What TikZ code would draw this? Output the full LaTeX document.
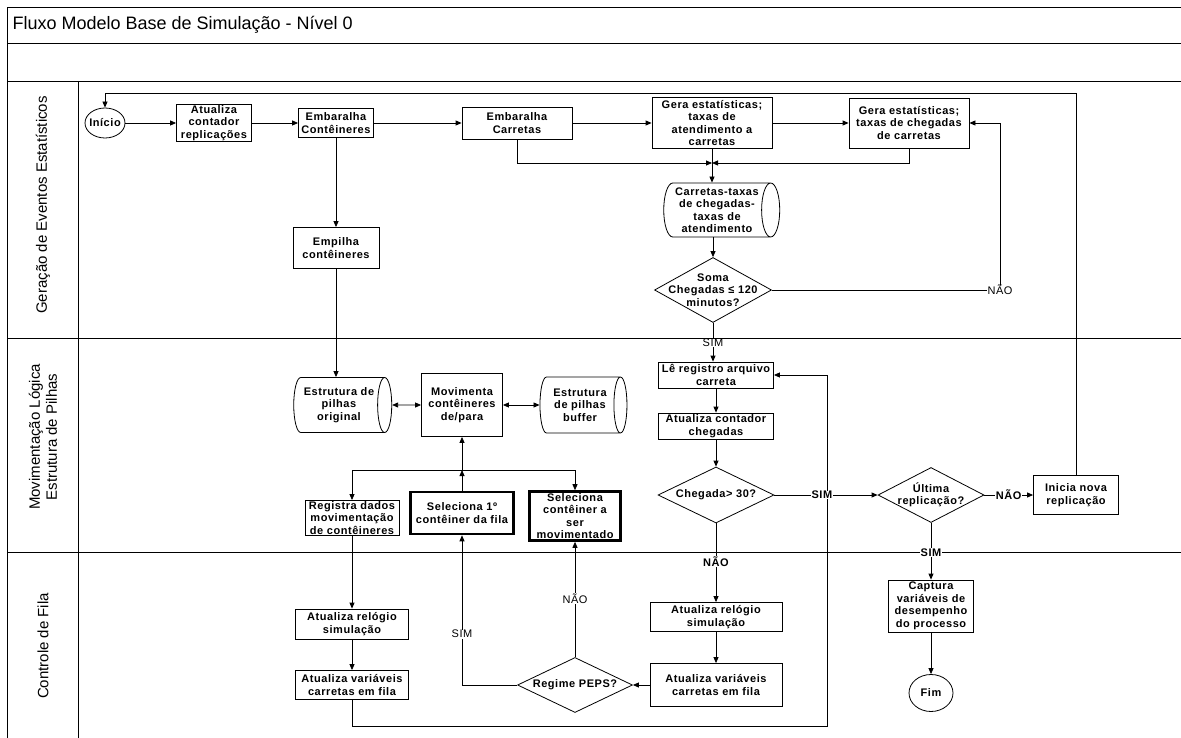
\documentclass[tikz,border=0pt]{standalone}
\usepackage{fontspec}
\setmainfont{Liberation Sans}
\newfontfamily\flowfamily{Liberation Sans}[LetterSpace=5]
\newcommand{\flowbf}{\flowfamily\bfseries\fontsize{11}{12.5}\selectfont}
\newcommand{\flowrm}{\flowfamily\fontsize{11}{12.5}\selectfont}
\usetikzlibrary{shapes.geometric,arrows.meta}
\tikzset{sz/.style 2 args={minimum width=#1pt,minimum height=#2pt},
  proc/.style={draw,rectangle,align=center,font=\flowbf,inner sep=1pt,line width=0.8pt},
  thickproc/.style={proc,line width=2.6pt},
  store/.style={draw,cylinder,aspect=0.4,align=center,font=\flowbf,inner sep=0pt,line width=0.8pt},
  decision/.style={draw,diamond,inner sep=0pt,line width=0.8pt},
  term/.style={draw,ellipse,font=\flowbf,inner ysep=0pt,inner xsep=-3pt,line width=0.8pt},
  lbl/.style={fill=white,inner sep=0.5pt,font=\flowrm},
  boldlbl/.style={lbl,font=\flowbf},
  lane/.style={rotate=90,align=center,font=\fontsize{15}{17}\selectfont},
  frameline/.style={line width=0.8pt},
  arr/.style={-{Triangle[length=6pt,width=5pt]},line width=0.8pt},
  darr/.style={{Triangle[length=6pt,width=5pt]}-{Triangle[length=6pt,width=5pt]},line width=0.8pt}}

\begin{document}
\begin{tikzpicture}[x=1pt,y=-1pt]
  \useasboundingbox (0,0) rectangle (1181,738);
  \draw[frameline] (7,738) -- (7,7) -- (1181,7);
  \draw[frameline] (7,43) -- (1181,43);
  \draw[frameline] (7,81) -- (1181,81);
  \draw[frameline] (7,338) -- (1181,338);
  \draw[frameline] (7,552) -- (1181,552);
  \draw[frameline] (78,81) -- (78,738);
  \node[anchor=west,font=\fontsize{18}{20}\selectfont] (titulo) at (9,25) {Fluxo Modelo Base de Simulação - Nível 0};
  \node[lane] (laneger) at (43,205) {Geração de Eventos Estatísticos};
  \node[lane] (lanemov) at (43,437) {Movimentação Lógica\\Estrutura de Pilhas};
  \node[lane] (lanefila) at (43,646) {Controle de Fila};

  \node[term,sz={40}{30}] (inicio) at (105,123) {Início};
  \node[proc,sz={75}{37}] (atualrep) at (214,123) {Atualiza\\contador\\replicações};
  \node[proc,sz={75}{29}] (embcont) at (336,123) {Embaralha\\Contêineres};
  \node[proc,sz={110}{32}] (embcarr) at (517,123) {Embaralha\\Carretas};
  \node[proc,sz={120}{51}] (geraatend) at (712,123) {Gera estatísticas;\\taxas de\\atendimento a\\carretas};
  \node[proc,sz={120}{50}] (gerachega) at (909,123) {Gera estatísticas;\\taxas de chegadas\\de carretas};
  \node[store,sz={54}{116}] (bdcarretas) at (717,210) {Carretas-taxas\\de chegadas-\\taxas de\\atendimento};
  \node[decision,sz={117}{65},label={[font=\flowbf,align=center]center:Soma\\Chegadas ≤ 120\\minutos?}] (soma) at (713,290) {};
  \node[proc,sz={86}{41}] (empilha) at (336,248) {Empilha\\contêineres};

  \node[store,sz={55}{98}] (bdoriginal) at (339,405) {Estrutura de\\pilhas\\original};
  \node[proc,sz={81}{63}] (movimenta) at (462,405) {Movimenta\\contêineres\\de/para};
  \node[store,sz={56}{87}] (bdbuffer) at (580,405) {Estrutura\\de pilhas\\buffer};
  \node[proc,sz={94}{34}] (registra) at (352,518) {Registra dados\\movimentação\\de contêineres};
  \node[thickproc,sz={103}{42}] (selprimeiro) at (462,513) {Seleciona 1º\\contêiner da fila};
  \node[thickproc,sz={91}{49},inner ysep=0pt] (selconteiner) at (575,516) {Seleciona\\contêiner a\\ser\\movimentado};
  \node[proc,sz={115}{26}] (leregistro) at (716,375) {Lê registro arquivo\\carreta};
  \node[proc,sz={115}{26}] (contchega) at (716,426) {Atualiza contador\\chegadas};
  \node[decision,sz={116}{56},label={[font=\flowbf]center:Chegada> 30?}] (chegada) at (716,495) {};
  \node[decision,sz={106}{55},label={[font=\flowbf,align=center]center:Última\\replicação?}] (ultima) at (931,495) {};
  \node[proc,sz={85}{39}] (inicia) at (1076,495) {Inicia nova\\replicação};

  \node[proc,sz={113}{30}] (relogioA) at (352,624) {Atualiza relógio\\simulação};
  \node[proc,sz={113}{29}] (variaveisA) at (352,685) {Atualiza variáveis\\carretas em fila};
  \node[proc,sz={132}{29}] (relogioB) at (716,617) {Atualiza relógio\\simulação};
  \node[proc,sz={132}{43}] (variaveisB) at (716,685) {Atualiza variáveis\\carretas em fila};
  \node[decision,sz={115}{55},label={[font=\flowbf]center:Regime PEPS?}] (peps) at (575,685) {};
  \node[proc,sz={85}{52}] (captura) at (931,606) {Captura\\variáveis de\\desempenho\\do processo};
  \node[term,sz={44}{37}] (fim) at (931,693) {Fim};

  \coordinate (merge) at (712,163);
  \coordinate (naoturn) at (1000,123);
  \coordinate (topturn) at (1076,93);
  \coordinate (jn) at (462,470);
  \coordinate (loopturn) at (827,726);

  \draw[arr] (inicio.east) -- (atualrep.west);
  \draw[arr] (atualrep.east) -- (embcont.west);
  \draw[arr] (embcont.east) -- (embcarr.west);
  \draw[arr] (embcarr.east) -- (geraatend.west);
  \draw[arr] (geraatend.east) -- (gerachega.west);
  \draw[arr] (embcarr.south) |- (merge);
  \draw[arr] (gerachega.south) |- (merge);
  \draw[arr] (geraatend.south) -- (geraatend.south |- bdcarretas.north);
  \draw[arr] (bdcarretas.south -| soma.north) -- (soma.north);
  \draw[arr] (soma.south) -- node[lbl,pos=0.52] {SIM} (soma.south |- leregistro.north);
  \draw[arr] (soma.east) -| node[lbl,pos=0.5] {NÃO} (naoturn) -- (gerachega.east);
  \draw[arr] (inicia.north) -- (topturn) -| (inicio.north);
  \draw[arr] (embcont.south) -- (empilha.north);
  \draw[arr] (empilha.south) -- (empilha.south |- bdoriginal.north);
  \draw[darr] (bdoriginal.east) -- (movimenta.west);
  \draw[darr] (movimenta.east) -- (bdbuffer.west);
  \draw[arr] (selprimeiro.north) -- (jn);
  \draw[arr] (jn) -- (movimenta.south);
  \draw[arr] (jn) -| (registra.north);
  \draw[arr] (jn) -| (selconteiner.north);
  \draw[arr] (registra.south) -- (relogioA.north);
  \draw[arr] (relogioA.south) -- (variaveisA.north);
  \draw[arr] (variaveisA.south) |- (loopturn) |- (leregistro.east);
  \draw[arr] (leregistro.south) -- (contchega.north);
  \draw[arr] (contchega.south) -- (chegada.north);
  \draw[arr] (chegada.south) -- node[boldlbl,pos=0.48] {NÃO} (relogioB.north);
  \draw[arr] (relogioB.south) -- (variaveisB.north);
  \draw[arr] (variaveisB.west) -- (peps.east);
  \draw[arr] (peps.west) -| node[lbl,pos=0.67] {SIM} (selprimeiro.south);
  \draw[arr] (peps.north) -- node[lbl,pos=0.51] {NÃO} (selconteiner.south);
  \draw[arr] (chegada.east) -- node[boldlbl,pos=0.46] {SIM} (ultima.west);
  \draw[arr] (ultima.east) -- node[boldlbl,pos=0.5] {NÃO} (inicia.west);
  \draw[arr] (ultima.south) -- node[boldlbl,pos=0.52] {SIM} (captura.north);
  \draw[arr] (captura.south) -- (fim.north);
\end{tikzpicture}
\end{document}
